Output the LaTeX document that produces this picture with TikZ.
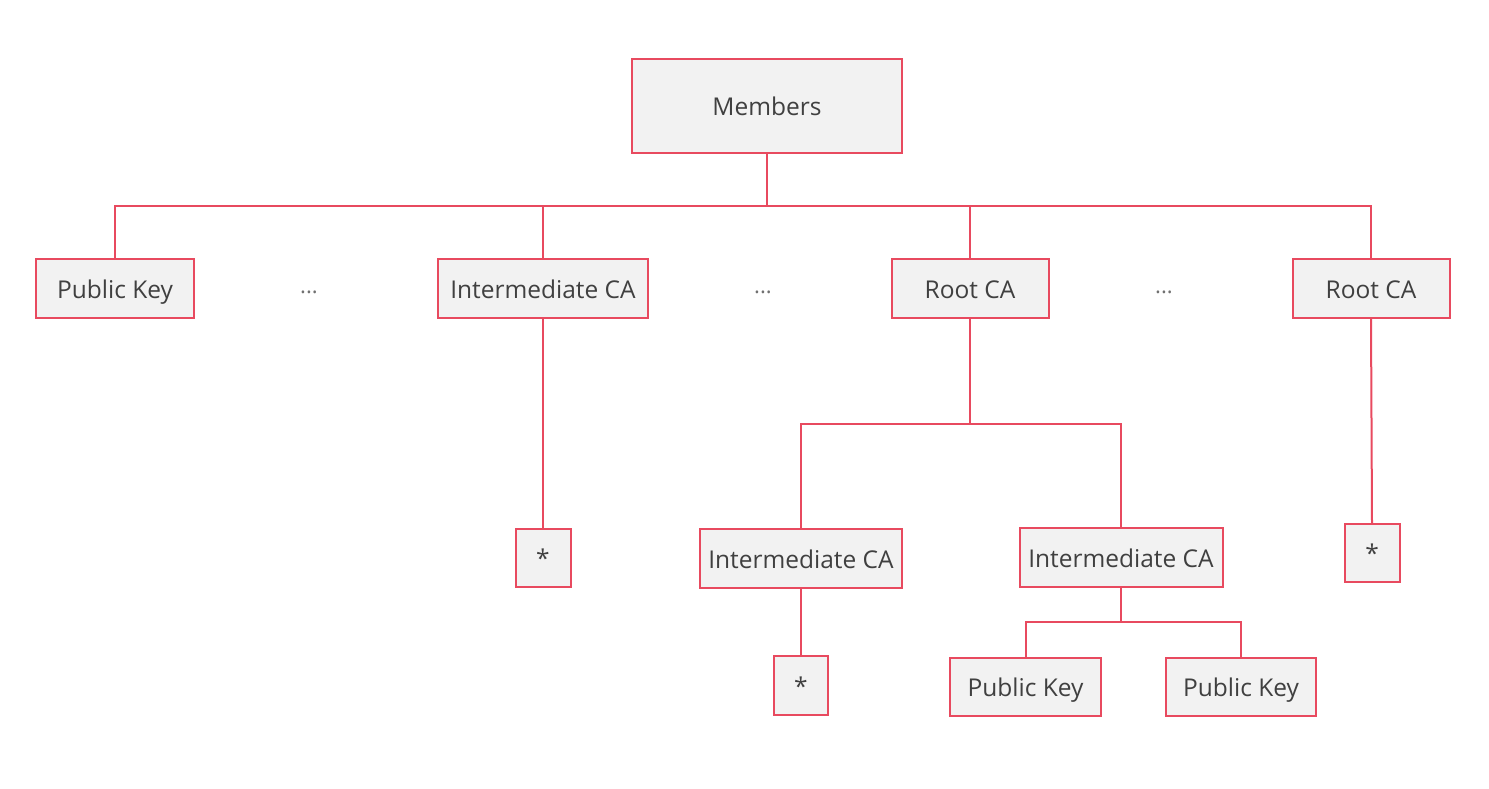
\documentclass[tikz,border=0pt]{standalone}
\usepackage{fontspec}
\setmainfont{Open Sans}
\definecolor{edge}{HTML}{E84A5F}
\definecolor{boxfill}{HTML}{F2F2F2}
\definecolor{txt}{HTML}{404040}
\definecolor{dotc}{HTML}{707070}
\begin{document}
\begin{tikzpicture}[x=1pt,y=-1pt,
  box/.style={draw=edge,fill=boxfill,line width=2pt,inner sep=0pt,text=txt,
    text height=19.4pt,text depth=0pt,font=\fontsize{24.5}{30}\selectfont},
  conn/.style={draw=edge,line width=2pt},
  dots/.style={text=dotc,font=\fontsize{22}{30}\selectfont,anchor=base,inner sep=0pt}]
\useasboundingbox (0,0) rectangle (1489,789);
\node[box,minimum width=270pt,minimum height=94pt] (mem) at (767,106) {Members};
\node[box,minimum width=158pt,minimum height=59pt] (pk1) at (115,288.5) {Public Key};
\node[box,minimum width=210pt,minimum height=59pt] (ica1) at (543,288.5) {Intermediate CA};
\node[box,minimum width=157pt,minimum height=59pt] (rca1) at (970,288.5) {Root CA};
\node[box,minimum width=157pt,minimum height=59pt] (rca2) at (1371,288.5) {Root CA};
\node[dots] (d1) at (309,293) {...};
\node[dots] (d2) at (763,293) {...};
\node[dots] (d3) at (1164,293) {...};
\node[box,minimum width=55pt,minimum height=58pt] (s1) at (543,558) {*};
\node[box,minimum width=202pt,minimum height=59pt] (ica2) at (801,558.5) {Intermediate CA};
\node[box,minimum width=203pt,minimum height=59pt] (ica3) at (1121,557.5) {Intermediate CA};
\node[box,minimum width=55pt,minimum height=58pt] (s3) at (1372,553) {*};
\node[box,minimum width=54pt,minimum height=59pt] (s2) at (801,685.5) {*};
\node[box,minimum width=151pt,minimum height=58pt] (pk2) at (1025.5,687) {Public Key};
\node[box,minimum width=150pt,minimum height=58pt] (pk3) at (1241,687) {Public Key};
\coordinate (bus1) at (767,206);
\coordinate (bus2) at (970,424);
\coordinate (bus3) at (1121,622);
\draw[conn] (mem.south) -- (bus1);
\draw[conn] (bus1) -| (pk1.north);
\draw[conn] (bus1) -| (ica1.north);
\draw[conn] (bus1) -| (rca1.north);
\draw[conn] (bus1) -| (rca2.north);
\draw[conn] (ica1.south) -- (s1.north);
\draw[conn] (rca2.south) -- (s3.north);
\draw[conn] (rca1.south) -- (bus2);
\draw[conn] (bus2) -| (ica2.north);
\draw[conn] (bus2) -| (ica3.north);
\draw[conn] (ica2.south) -- (s2.north);
\draw[conn] (ica3.south) -- (bus3);
\draw[conn] (bus3) -| (pk2.north);
\draw[conn] (bus3) -| (pk3.north);
\end{tikzpicture}
\end{document}
